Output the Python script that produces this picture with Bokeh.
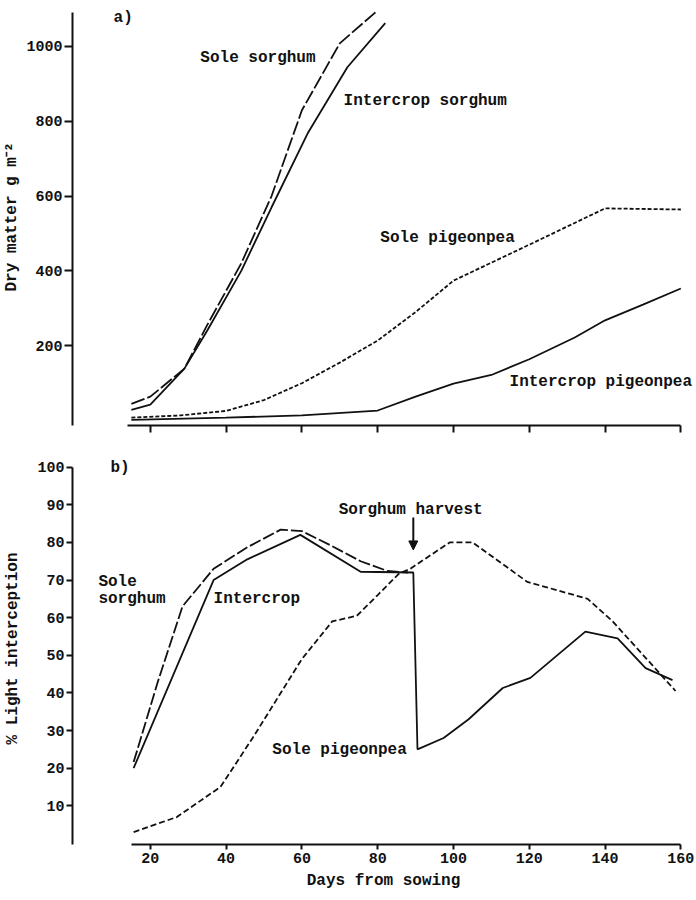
from bokeh.plotting import figure
from bokeh.layouts import column
from bokeh.models import Label, Arrow, NormalHead, FixedTicker, CustomJSTickFormatter, Range1d
from bokeh.embed import file_html
from bokeh.resources import INLINE

# ---------------- Panel a: dry matter (g m-2) ----------------
a_sole_sorghum_days = [15, 20, 29, 35, 44, 52, 60, 70, 80]
a_sole_sorghum_dm = [45, 64, 139, 255, 420, 600, 829, 1008, 1096]

a_inter_sorghum_days = [15, 20, 29, 35, 44, 52, 61.5, 72, 82]
a_inter_sorghum_dm = [29, 43, 139, 240, 400, 570, 767, 944, 1062]

a_sole_pigeon_days = [15, 28, 40, 50, 60, 70, 80, 90, 100, 120, 140, 160]
a_sole_pigeon_dm = [8, 14, 26, 55, 100, 155, 214, 290, 374, 470, 567, 564]

a_inter_pigeon_days = [15, 40, 60, 80, 90, 100, 110, 120, 132, 140, 150, 160]
a_inter_pigeon_dm = [2, 8, 14, 27, 64, 99, 122, 164, 222, 268, 310, 353]

a_yticks = [200, 400, 600, 800, 1000]
x_ticks = [20, 40, 60, 80, 100, 120, 140, 160]

# ---------------- Panel b: % light interception ----------------
b_sole_sorghum_days = [15.6, 22, 28.5, 36.7, 45.6, 54.4, 60, 68, 75.5, 82.6, 88]
b_sole_sorghum_li = [21.6, 43, 63, 73, 78.7, 83.4, 83, 79, 75, 72.4, 72]

b_intercrop_days = [15.6, 36.7, 45.6, 59.6, 75.5, 89.4, 90.5, 97.4, 104, 113, 120.3, 134.8, 143.3, 150.7, 157.8]
b_intercrop_li = [20, 70, 75.5, 82, 72.2, 72, 25, 28, 33, 41.3, 44, 56.3, 54.5, 46.6, 43.4]

b_sole_pigeon_days = [15.6, 27, 38.5, 47, 60, 68, 74.5, 80, 85.5, 88.6, 99, 105, 119.5, 135.4, 142, 151, 158.6]
b_sole_pigeon_li = [3, 7, 15, 28, 49, 59, 60.5, 66, 71.6, 73, 80, 80, 69.5, 65, 59, 49, 40.5]

b_yticks = [10, 20, 30, 40, 50, 60, 70, 80, 90, 100]

harvest_day = 89.4
harvest_arrow = [86.6, 78]

FONT = "Liberation Mono"
INK = "#111111"
FS_TICK = "15px"
FS = "16px"


def style(p):
    p.toolbar_location = None
    p.grid.visible = False
    p.outline_line_color = None
    p.background_fill_color = "white"
    p.border_fill_color = "white"
    for ax in p.axis:
        ax.axis_line_width = 2
        ax.axis_line_color = INK
        ax.major_tick_line_width = 2
        ax.major_tick_line_color = INK
        ax.minor_tick_line_color = None
        ax.major_tick_in = 0
        ax.major_label_text_font = FONT
        ax.major_label_text_font_style = "bold"
        ax.major_label_text_font_size = FS_TICK
        ax.major_label_text_color = INK
        ax.axis_label_text_font = FONT
        ax.axis_label_text_font_style = "bold"
        ax.axis_label_text_font_size = FS
        ax.axis_label_text_color = INK


def lab(p, text, x, y):
    p.add_layout(Label(x=x, y=y, text=text, text_font=FONT, text_font_style="bold",
                       text_font_size=FS, text_color=INK, text_baseline="middle",
                       text_align="left"))


XR = (-0.53, 163.6)

# ---- figure a ----
pa = figure(width=696, height=452, output_backend="svg", toolbar_location=None,
            x_range=Range1d(*XR), y_range=Range1d(-13, 1101),
            min_border_top=8, min_border_left=72, min_border_right=2, min_border_bottom=27)
style(pa)
pa.xaxis.ticker = FixedTicker(ticks=x_ticks)
pa.xaxis.formatter = CustomJSTickFormatter(code="return ''")
pa.xaxis.bounds = (14, 160)
pa.xaxis.major_tick_out = 7
pa.yaxis.ticker = FixedTicker(ticks=a_yticks)
pa.yaxis.bounds = (-13, 1090)
pa.yaxis.major_tick_out = 8
pa.yaxis.major_label_standoff = 2
pa.yaxis.axis_label = "Dry matter g m\u207b\u00b2"
pa.yaxis.axis_label_standoff = 2

pa.line(a_sole_sorghum_days, a_sole_sorghum_dm, line_color=INK, line_width=1.8, line_dash="14 3")
pa.line(a_inter_sorghum_days, a_inter_sorghum_dm, line_color=INK, line_width=1.8)
pa.line(a_sole_pigeon_days, a_sole_pigeon_dm, line_color=INK, line_width=1.8, line_dash="4 2")
pa.line(a_inter_pigeon_days, a_inter_pigeon_dm, line_color=INK, line_width=1.8)

lab(pa, "a)", 10.3, 1075)
lab(pa, "Sole sorghum", 33.2, 968)
lab(pa, "Intercrop sorghum", 71, 855)
lab(pa, "Sole pigeonpea", 80.7, 489)
lab(pa, "Intercrop pigeonpea", 114.8, 102)

# ---- figure b ----
pb = figure(width=696, height=440, output_backend="svg", toolbar_location=None,
            x_range=Range1d(*XR), y_range=Range1d(-0.3, 103.9),
            min_border_top=0, min_border_left=72, min_border_right=2, min_border_bottom=44)
style(pb)
pb.xaxis.ticker = FixedTicker(ticks=x_ticks)
pb.xaxis.bounds = (15, 160)
pb.xaxis.major_tick_out = 5
pb.xaxis.major_label_standoff = 3
pb.xaxis.axis_label = "Days from sowing"
pb.xaxis.axis_label_standoff = 6
pb.yaxis.ticker = FixedTicker(ticks=b_yticks)
pb.yaxis.bounds = (-0.3, 100)
pb.yaxis.major_tick_out = 6
pb.yaxis.major_label_standoff = 2
pb.yaxis.axis_label = "% Light interception"
pb.yaxis.axis_label_standoff = 12

pb.line(b_sole_sorghum_days, b_sole_sorghum_li, line_color=INK, line_width=1.8, line_dash="12 3")
pb.line(b_intercrop_days, b_intercrop_li, line_color=INK, line_width=1.8)
pb.line(b_sole_pigeon_days, b_sole_pigeon_li, line_color=INK, line_width=1.8, line_dash="6 3")

pb.add_layout(Arrow(x_start=harvest_day, y_start=harvest_arrow[0], x_end=harvest_day, y_end=harvest_arrow[1],
                    line_color=INK, line_width=2,
                    end=NormalHead(size=9, fill_color=INK, line_color=INK)))

lab(pb, "b)", 9.5, 99.7)
lab(pb, "Sole", 6.3, 69.5)
lab(pb, "sorghum", 6.3, 65)
lab(pb, "Intercrop", 36.7, 65)
lab(pb, "Sole pigeonpea", 52.2, 24.7)
lab(pb, "Sorghum harvest", 69.7, 88.7)

layout = column(pa, pb, spacing=0)
open("out.html", "w").write(file_html(layout, INLINE))
